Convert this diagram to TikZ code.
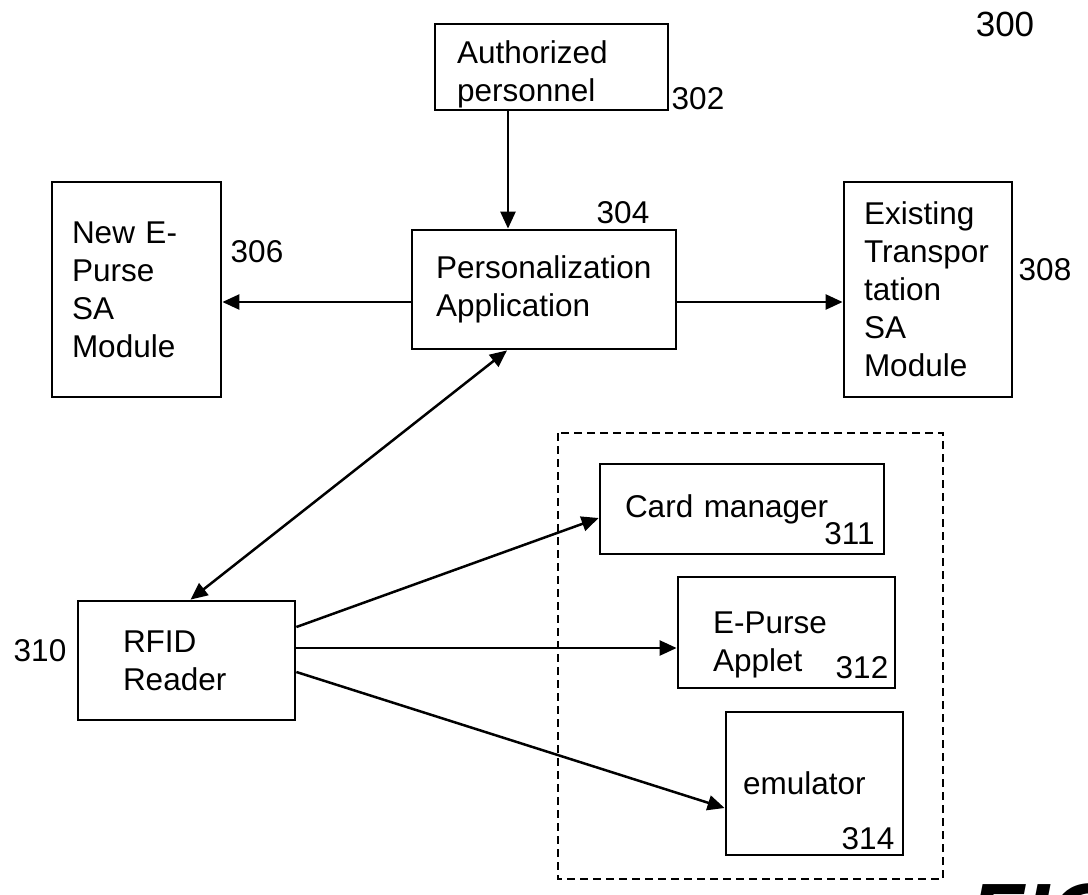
\documentclass[tikz,border=0pt]{standalone}
\usepackage{fontspec}
\setmainfont{Liberation Sans}
\usetikzlibrary{arrows.meta}

\begin{document}
\begin{tikzpicture}[x=1pt, y=-1pt, font=\fontsize{31.5}{38}\selectfont,
    blk/.style={draw, line width=2.8pt, align=left, inner ysep=0pt},
    lbl/.style={inner sep=0pt},
    arr/.style={line width=2.5pt, -{Triangle[length=17pt, width=15pt]}},
    darr/.style={line width=2.5pt, {Triangle[length=17pt, width=15pt]}-{Triangle[length=17pt, width=15pt]}}]
  \useasboundingbox (0,0) rectangle (1088,895);

  % boxes
  \node[blk, minimum width=233pt, minimum height=86pt,  text width=189pt, inner xsep=22pt] (AP) at (551.5, 67)    {\rule{0pt}{37pt}Authorized\\personnel};
  \node[blk, minimum width=264pt, minimum height=119pt, text width=216pt, inner xsep=24pt] (PA) at (544, 289.5)   {Personalization\\Application};
  \node[blk, minimum width=169pt, minimum height=215pt, text width=129pt, inner xsep=20pt] (NP) at (136.5, 289.5) {New E-\\Purse\\SA\\Module};
  \node[blk, minimum width=168pt, minimum height=215pt, text width=128pt, inner xsep=20pt] (ET) at (928, 289.5)   {Existing\\Transpor\\tation\\SA\\Module};
  \node[blk, minimum width=217pt, minimum height=119pt, text width=127pt, inner xsep=45pt] (RR) at (186.5, 660.5) {RFID\\Reader};
  \node[blk, minimum width=284pt, minimum height=90pt,  text width=234pt, inner xsep=25pt] (CM) at (742, 509)     {Card manager};
  \node[blk, minimum width=217pt, minimum height=111pt, text width=147pt, inner xsep=35pt] (EA) at (786.5, 632.5) {\rule{0pt}{47pt}E-Purse\\Applet};
  \node[blk, minimum width=177pt, minimum height=143pt, text width=143pt, inner xsep=17pt] (EM) at (814.5, 783.5) {emulator};

  % card boundary
  \draw[line width=2.5pt, dash pattern=on 8pt off 5pt] (558,433) rectangle (943,879);

  % reference numerals
  \node[lbl, font=\fontsize{35}{40}\selectfont] (n300) at (1005, 24.5) {300};
  \node[lbl] (n302) at (698, 99)     {302};
  \node[lbl] (n304) at (623, 213)    {304};
  \node[lbl] (n306) at (257, 252)    {306};
  \node[lbl] (n308) at (1045, 270)   {308};
  \node[lbl] (n310) at (40, 651)     {310};
  \node[lbl] (n311) at (849.5, 534)  {311};
  \node[lbl] (n312) at (862, 667.5)  {312};
  \node[lbl] (n314) at (868, 839)    {314};
  \node[lbl, anchor=north west, font=\fontsize{90}{90}\selectfont\bfseries\itshape] (fig) at (969, 883) {FIG};

  % connections
  \draw[arr]  ([xshift=-43.5pt]AP.south) -- ([xshift=-36pt]PA.north);
  \draw[arr]  ([yshift=-12.5pt]PA.west) -- ([yshift=-12.5pt]PA.west -| NP.east);
  \draw[arr]  ([yshift=-12.5pt]PA.east) -- ([yshift=-12.5pt]PA.east -| ET.west);
  \draw[darr] ([xshift=-37pt]PA.south) -- ([xshift=4pt]RR.north);
  \draw[arr]  ([yshift=33.5pt]RR.east) -- ([yshift=-9pt]CM.west);
  \draw[arr]  ([yshift=12.5pt]RR.east) -- ([yshift=12.5pt]RR.east -| EA.west);
  \draw[arr]  ([yshift=-11.5pt]RR.east) -- ([yshift=-24.5pt]EM.west);
\end{tikzpicture}
\end{document}
